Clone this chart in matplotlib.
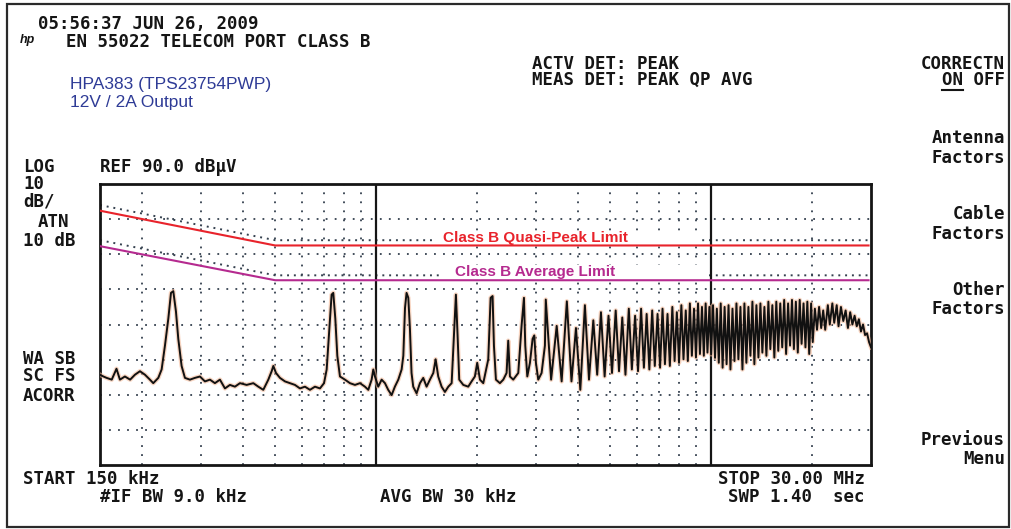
import matplotlib
matplotlib.use("Agg")
import matplotlib.pyplot as plt
from matplotlib.lines import Line2D
from matplotlib.patches import Rectangle

W, H = 1011, 529

# EN 55022 telecom port class B limits, dBuV vs MHz
limit_mhz = [0.15, 0.5, 30.0]
qp_limit_dbuv = [84.0, 74.0, 74.0]
avg_limit_dbuv = [74.0, 64.0, 64.0]

# coloured lines drawn over the analyzer plot
overlay_mhz = [0.15, 0.5, 29.5]
qp_overlay_dbuv = [82.4, 72.5, 72.5]
avg_overlay_dbuv = [72.3, 62.6, 62.6]

decade_mhz = [1.0, 10.0]
minor_mhz = [0.2, 0.3, 0.4, 0.5, 0.6, 0.7, 0.8, 0.9,
             2, 3, 4, 5, 6, 7, 8, 9, 20]
level_grid_dbuv = [20, 30, 40, 50, 60, 70, 80]

# peak detector trace
trace_mhz = [
    0.150, 0.1535, 0.157, 0.1626, 0.168, 0.172, 0.178, 0.1845, 0.1907, 0.1974,
    0.2043, 0.2114, 0.2163, 0.2239, 0.2291, 0.2344, 0.2399, 0.2443, 0.2482, 0.2528,
    0.2569, 0.2628, 0.2689, 0.2783, 0.2880, 0.2981, 0.3085, 0.3193, 0.3304, 0.3420,
    0.3540, 0.3663, 0.3792, 0.3924, 0.4109, 0.4302, 0.4452, 0.4607, 0.4769, 0.4880,
    0.4936, 0.5027, 0.5166, 0.5347, 0.5534, 0.5727, 0.5927, 0.6135, 0.6349, 0.6571,
    0.6801, 0.6993, 0.7122, 0.7254, 0.7367, 0.7453, 0.7557, 0.7662, 0.7803, 0.8074,
    0.8357, 0.8650, 0.8953, 0.9264, 0.9480, 0.9699, 0.9811, 0.9924,
    1.015, 1.039, 1.063, 1.087, 1.113, 1.138, 1.165, 1.192, 1.206, 1.220,
    1.233, 1.248, 1.262, 1.276, 1.291, 1.321, 1.352, 1.383, 1.415, 1.448,
    1.482, 1.506, 1.533, 1.569, 1.605, 1.643, 1.681, 1.708, 1.731, 1.751,
    1.771, 1.821, 1.884, 1.928, 1.972, 2.004, 2.042, 2.089, 2.162, 2.197,
    2.227, 2.248, 2.279, 2.342, 2.397, 2.452, 2.480, 2.509, 2.567, 2.657,
    2.719, 2.763, 2.788, 2.827, 2.879, 2.932, 2.966, 3.000, 3.048, 3.119, 3.191,
    3.21, 3.33, 3.46, 3.58, 3.71, 3.83, 3.95, 4.07, 4.20, 4.32,
    4.45, 4.57, 4.69, 4.81, 4.94, 5.06, 5.19, 5.31, 5.43, 5.55,
    5.68, 5.80, 5.93, 6.05, 6.18, 6.30, 6.42, 6.54, 6.67, 6.79,
    6.92, 7.04, 7.16, 7.28, 7.41, 7.53, 7.66, 7.78, 7.90, 8.02,
    8.15, 8.27, 8.40, 8.52, 8.64, 8.76, 8.89, 9.01, 9.14, 9.26,
    9.39, 9.51, 9.63, 9.75, 9.88, 10.0,
    10.13, 10.27, 10.40, 10.54, 10.68, 10.82, 10.97, 11.12, 11.27, 11.42,
    11.58, 11.74, 11.90, 12.06, 12.23, 12.40, 12.57, 12.74, 12.92, 13.10,
    13.28, 13.46, 13.65, 13.84, 14.03, 14.22, 14.42, 14.62, 14.82, 15.02,
    15.23, 15.44, 15.65, 15.86, 16.08, 16.30, 16.52, 16.74, 16.97, 17.20,
    17.43, 17.66, 17.90, 18.14, 18.38, 18.62, 18.87, 19.12, 19.37, 19.62,
    19.88, 20.1,
    20.4, 20.7, 21.0, 21.3, 21.6, 21.9, 22.3, 22.6, 23.0, 23.3,
    23.7, 24.0, 24.4, 24.8, 25.2, 25.6, 26.0, 26.4, 26.8, 27.2,
    27.6, 28.0, 28.4, 28.8, 29.2, 29.6, 30.0,
]
trace_dbuv = [
    35.7, 35.2, 34.8, 34.3, 37.4, 34.3, 35.2, 34.3, 35.7, 36.7,
    35.7, 34.3, 33.3, 34.8, 37.2, 44.0, 51.7, 59.0, 59.5, 53.7,
    45.9, 38.2, 34.8, 34.3, 34.8, 35.2, 33.8, 34.3, 33.3, 34.3,
    31.8, 32.8, 32.3, 33.3, 32.8, 33.3, 32.3, 31.4, 34.3, 36.7,
    38.2, 36.2, 34.8, 33.8, 33.3, 32.8, 31.8, 32.3, 31.4, 32.3,
    31.8, 33.3, 37.2, 48.8, 58.5, 59.0, 51.7, 41.1, 35.2, 34.3,
    33.3, 32.8, 33.3, 32.3, 31.4, 34.3, 37.2, 35.2,
    32.3, 34.3, 33.3, 31.4, 29.9, 32.3, 34.3, 37.2, 41.1, 54.7,
    59.0, 57.6, 48.8, 36.2, 32.3, 30.4, 33.3, 34.8, 32.3, 34.3,
    36.2, 40.1, 35.2, 32.3, 30.8, 32.3, 33.3, 46.9, 58.5, 46.9,
    34.3, 32.8, 32.3, 33.8, 35.2, 39.1, 34.3, 33.3, 40.1, 57.6,
    58.1, 44.0, 34.3, 33.3, 34.3, 36.2, 45.4, 35.2, 34.3, 36.2,
    49.8, 57.6, 44.0, 35.2, 39.1, 45.9, 46.9, 39.1, 34.3, 36.2, 44.0,
    57.1, 34.3, 49.6, 33.8, 56.6, 33.8, 49.0, 31.4, 55.5, 34.3,
    51.2, 35.7, 53.5, 35.2, 52.5, 36.2, 54.0, 36.7, 52.0, 35.7,
    54.5, 37.2, 52.5, 36.7, 54.5, 37.7, 53.0, 37.2, 54.0, 38.2,
    53.0, 37.7, 54.5, 38.7, 53.0, 38.2, 55.0, 39.6, 53.5, 39.1,
    55.5, 40.1, 54.0, 39.6, 56.0, 41.1, 54.5, 40.6, 56.0, 41.6,
    55.0, 41.1, 56.0, 42.0, 55.0, 41.5,
    55.5, 40.5, 54.5, 39.1, 56.0, 37.7, 55.0, 38.7, 55.5, 37.2,
    54.5, 39.6, 56.0, 40.1, 55.0, 37.2, 56.0, 39.1, 55.0, 41.1,
    56.5, 38.7, 55.5, 40.6, 56.0, 42.0, 55.0, 41.1, 56.5, 43.0,
    55.5, 40.6, 56.5, 42.5, 56.0, 43.5, 57.0, 41.6, 56.0, 44.0,
    57.0, 43.0, 56.5, 42.0, 57.0, 44.5, 56.0, 43.5, 56.5, 41.6,
    56.0, 45.0,
    54.5, 48.5, 55.0, 49.0, 54.0, 48.5, 55.5, 50.0, 56.0, 50.5,
    55.5, 49.5, 55.0, 51.0, 54.0, 49.0, 53.5, 50.0, 52.5, 49.5,
    51.5, 48.0, 50.0, 47.0, 47.5, 45.0, 43.5,
]

INK = "#151515"
MONO = ["DejaVu Sans Mono"]
SANS = ["Liberation Sans", "DejaVu Sans"]
MONO_SIZE = 12.5


def fx(x):
    return x / W


def fy(y):
    return 1 - y / H


fig = plt.figure(figsize=(W / 100, H / 100), dpi=100)
fig.patch.set_facecolor("white")

# outer border of the screenshot
fig.add_artist(Rectangle((fx(7), fy(527)), (1009 - 7) / W, (527 - 4) / H,
                         transform=fig.transFigure, fill=False,
                         ec="#2a2a2a", lw=1.6))

ax = fig.add_axes([fx(100), fy(465), 771 / W, 281 / H])
ax.set_xscale("log")
ax.set_xlim(0.15, 30)
ax.set_ylim(10, 90)
ax.set_xticks([])
ax.set_yticks([])
ax.minorticks_off()
for s in ax.spines.values():
    s.set_color(INK)
    s.set_linewidth(2.0)

dot = (0, (1, 4))
for lv in level_grid_dbuv:
    ax.axhline(lv, color="#34404e", lw=1.3, ls=dot, zorder=1)
for f in minor_mhz:
    ax.axvline(f, color="#34404e", lw=1.3, ls=dot, zorder=1)
for f in decade_mhz:
    ax.axvline(f, color=INK, lw=1.6, zorder=3)

# analyzer limit lines (dotted)
ax.plot(limit_mhz, qp_limit_dbuv, color="#34404e", lw=1.4, ls=(0, (1, 2.5)), zorder=2)
ax.plot(limit_mhz, avg_limit_dbuv, color="#34404e", lw=1.4, ls=(0, (1, 2.5)), zorder=2)

# white label boxes
fig.add_artist(Rectangle((fx(433), fy(244)), 267 / W, 12 / H,
                         transform=fig.transFigure, fc="white", ec="none", zorder=4))
fig.add_artist(Rectangle((fx(443), fy(278)), 264 / W, 13 / H,
                         transform=fig.transFigure, fc="white", ec="none", zorder=4))

ax.plot(overlay_mhz, qp_overlay_dbuv, color="#e8232b", lw=1.5, zorder=5)
ax.plot(overlay_mhz, avg_overlay_dbuv, color="#b52a8f", lw=1.5, zorder=5)

# trace with the printout's orange halo
ax.plot(trace_mhz, trace_dbuv, color="#f3b999", lw=3.2, alpha=0.6, zorder=6)
ax.plot(trace_mhz, trace_dbuv, color="#111111", lw=1.4, zorder=7)

fig.text(fx(443), fy(238), "Class B Quasi-Peak Limit", color="#e8232b",
         family=SANS, weight="bold", fontsize=11, va="center", zorder=8)
fig.text(fx(455), fy(272), "Class B Average Limit", color="#b52a8f",
         family=SANS, weight="bold", fontsize=11, va="center", zorder=8)

# instrument annotations
mono_left = [
    ("05:56:37 JUN 26, 2009", 38, 24),
    ("EN 55022 TELECOM PORT CLASS B", 66, 42),
    ("ACTV DET: PEAK", 532, 64),
    ("MEAS DET: PEAK QP AVG", 532, 80),
    ("LOG", 23, 167),
    ("REF 90.0 dB\u03bcV", 100, 167),
    ("10", 23, 184),
    ("dB/", 23, 202),
    ("ATN", 38, 222),
    ("10 dB", 23, 241),
    ("WA SB", 23, 359),
    ("SC FS", 23, 376),
    ("ACORR", 23, 396),
    ("START 150 kHz", 23, 479),
    ("#IF BW 9.0 kHz", 100, 497),
    ("AVG BW 30 kHz", 380, 497),
]
mono_right = [
    ("CORRECTN", 1005, 64),
    ("Antenna", 1005, 138),
    ("Factors", 1005, 158),
    ("Cable", 1005, 214),
    ("Factors", 1005, 234),
    ("Other", 1005, 290),
    ("Factors", 1005, 309),
    ("Previous", 1005, 440),
    ("Menu", 1005, 459),
    ("STOP 30.00 MHz", 865, 479),
    ("SWP 1.40  sec", 865, 497),
]
for s, x, y in mono_left:
    fig.text(fx(x), fy(y), s, family=MONO, fontsize=MONO_SIZE, color=INK,
             weight="bold", ha="left", va="center")
for s, x, y in mono_right:
    fig.text(fx(x), fy(y), s, family=MONO, fontsize=MONO_SIZE, color=INK,
             weight="bold", ha="right", va="center")

onoff = fig.text(fx(1005), fy(80), "ON OFF", family=MONO, fontsize=MONO_SIZE,
                 color=INK, weight="bold", ha="right", va="center")

fig.text(fx(20), fy(40), "hp", family=SANS, style="italic", weight="bold",
         fontsize=9, color=INK, va="center")

fig.text(fx(70), fy(84), "HPA383 (TPS23754PWP)", family=SANS, fontsize=12.5,
         color="#2e3b96", va="center")
fig.text(fx(70), fy(102), "12V / 2A Output", family=SANS, fontsize=12.5,
         color="#2e3b96", va="center")

# underline under "ON" (first two of six characters)
fig.canvas.draw()
bb = onoff.get_window_extent()
x0 = bb.x0 / W
x1 = (bb.x0 + bb.width * 2 / 6) / W
fig.add_artist(Line2D([x0, x1], [fy(90), fy(90)], transform=fig.transFigure,
                      color=INK, lw=1.5))

fig.savefig("out.png", dpi=100, facecolor="white")
